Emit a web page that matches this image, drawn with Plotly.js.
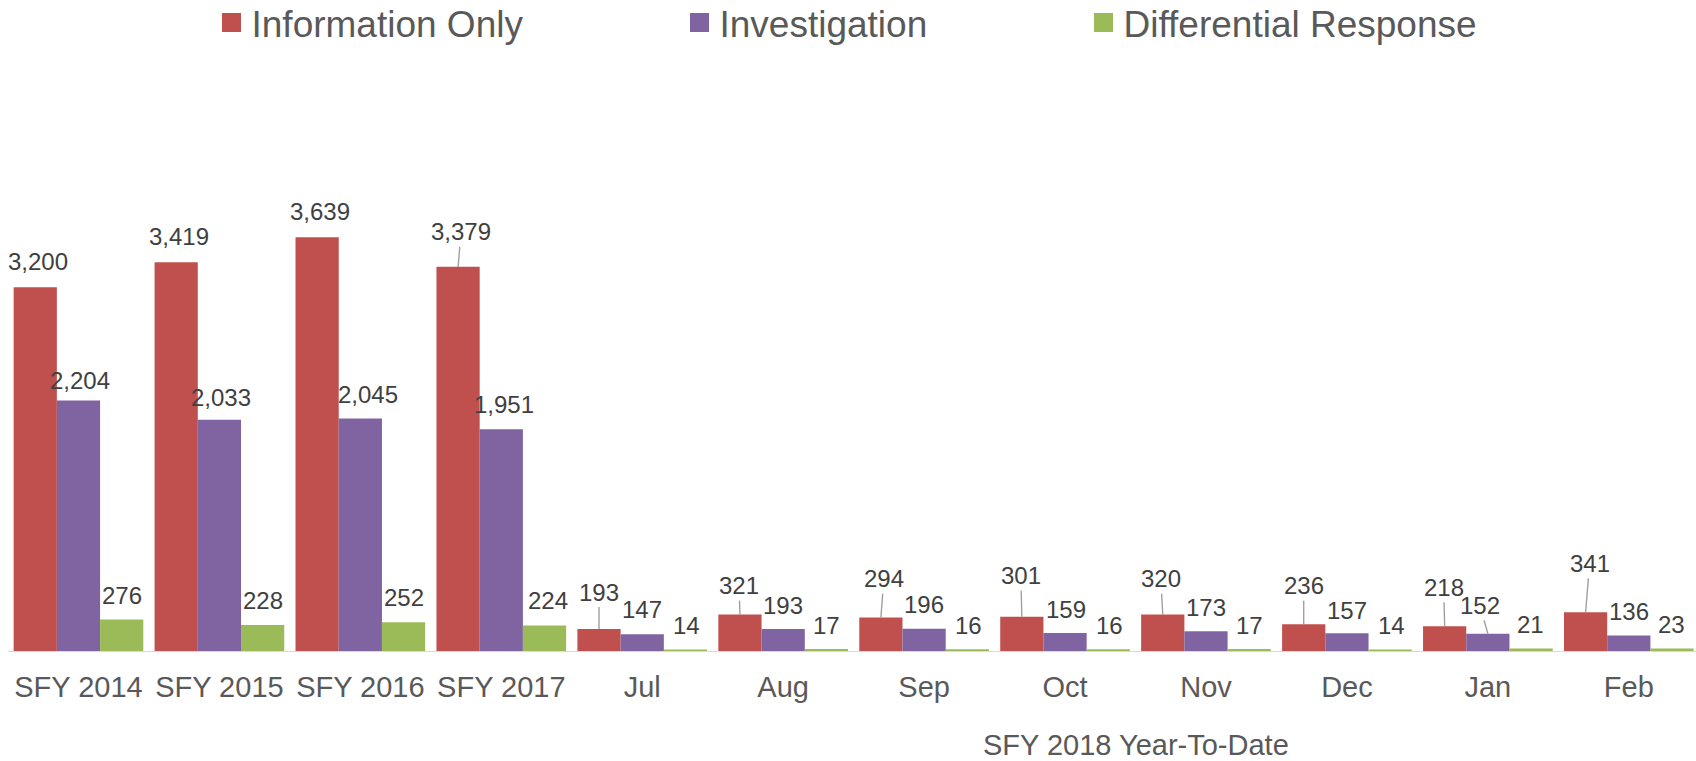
<!DOCTYPE html>
<html>
<head>
<meta charset="utf-8">
<script src="https://cdn.plot.ly/plotly-3.0.1.min.js"></script>
<style>
html,body{margin:0;padding:0;background:#fff}
#plot{width:1696px;height:761px}
</style>
</head>
<body>
<div id="plot"></div>
<script>
// dane z wykresu
var categories=['SFY 2014','SFY 2015','SFY 2016','SFY 2017','Jul','Aug','Sep','Oct','Nov','Dec','Jan','Feb'];
var info_only=[3200,3419,3639,3379,193,321,294,301,320,236,218,341];
var investigation=[2204,2033,2045,1951,147,193,196,159,173,157,152,136];
var differential=[276,228,252,224,14,17,16,16,17,14,21,23];
var series_names=['Information Only','Investigation','Differential Response'];
var group_title='SFY 2018 Year-To-Date';

var def_colors=['#C0504D','#8064A2','#9BBB59'];

// przesuniecia etykiet w px (dx w prawo, dy w gore od szczytu slupka), lead = linia odniesienia
var lbl_dx=[
    [3,3,3,3,0,-1,3,-1,-2,0,-1,4],
    [2,2,8,3,0,0,0,1,0,0,-8,0],
    [0,0,0,3,1,0,1,1,0,1,-1,-1]
];
var lbl_dy=[
    [25.5,25.5,25.5,35,37,29,39,41,36,38.5,39,49],
    [20,22,24.5,24.5,24.5,23.5,24.5,23.5,24,23,28.5,24.5],
    [24.5,24.5,24.5,25,24,24,24,24,24,24,24,24]
];
var lbl_lead=[
    [0,0,0,1,1,1,1,1,1,1,1,1],
    [0,0,0,0,0,0,0,0,0,0,1,0],
    [0,0,0,0,0,0,0,0,0,0,0,0]
];

var FONT='"Liberation Sans", Arial, sans-serif';
var bargap=0.08;
var px_per_unit=0.11369;
var plot_h=761-100-110;

var all_values=[info_only,investigation,differential];
var data=[];
var annotations=[];

for (var k=0;k<3;k++)
{
    data.push({x:categories,y:all_values[k],type:'bar',name:series_names[k],
               marker:{color:def_colors[k]},showlegend:false,hoverinfo:'skip'});
    //element legendy - kwadrat
    data.push({x:[null],y:[null],type:'scatter',mode:'markers',name:series_names[k],
               marker:{symbol:'square',size:16,color:def_colors[k],line:{width:3,color:def_colors[k]}},
               legend:(k==0?'legend':'legend'+(k+1)),hoverinfo:'skip'});
    var bw=(1-bargap)/3;
    for (var i=0;i<categories.length;i++)
    {
        var v=all_values[k][i];
        annotations.push({x:i+(k-1)*bw,y:v,xref:'x',yref:'y',
            text:v.toLocaleString('en-US'),showarrow:true,arrowhead:0,arrowwidth:1.4,standoff:0,
            arrowcolor:lbl_lead[k][i]?'#a0a0a0':'rgba(0,0,0,0)',
            ax:lbl_dx[k][i],ay:-lbl_dy[k][i],
            font:{family:FONT,size:24,color:'#404040'}});
    }
}

annotations.push({x:7.5,y:(651-744.7)/plot_h,xref:'x',yref:'paper',text:group_title,showarrow:false,
    xanchor:'center',yanchor:'middle',font:{family:FONT,size:29,color:'#595959'}});

function legendBox(xpx){
    return {orientation:'h',xref:'container',yref:'container',x:xpx/1696,y:1-23/761,
            xanchor:'left',yanchor:'middle',bgcolor:'rgba(0,0,0,0)',borderwidth:0,
            font:{family:FONT,size:37,color:'#595959'}};
}

var layout={
    width:1696,height:761,
    margin:{l:8,r:0,t:100,b:110},
    paper_bgcolor:'#ffffff',plot_bgcolor:'#ffffff',
    barmode:'group',bargap:bargap,bargroupgap:0,
    font:{family:FONT,color:'#595959'},
    xaxis:{type:'category',range:[-0.5,-0.5+1688/140.94],showline:true,linecolor:'#d9d9d9',linewidth:1,
           ticks:'',showgrid:false,zeroline:false,automargin:false,
           tickfont:{family:FONT,size:29,color:'#595959'},ticklabelstandoff:10},
    yaxis:{range:[0,plot_h/px_per_unit],visible:false,showgrid:false,zeroline:false,automargin:false},
    legend:legendBox(211.5),
    legend2:legendBox(679.5),
    legend3:legendBox(1083.5),
    annotations:annotations
};

Plotly.newPlot('plot',data,layout,{displayModeBar:false,staticPlot:true});
</script>
</body>
</html>
